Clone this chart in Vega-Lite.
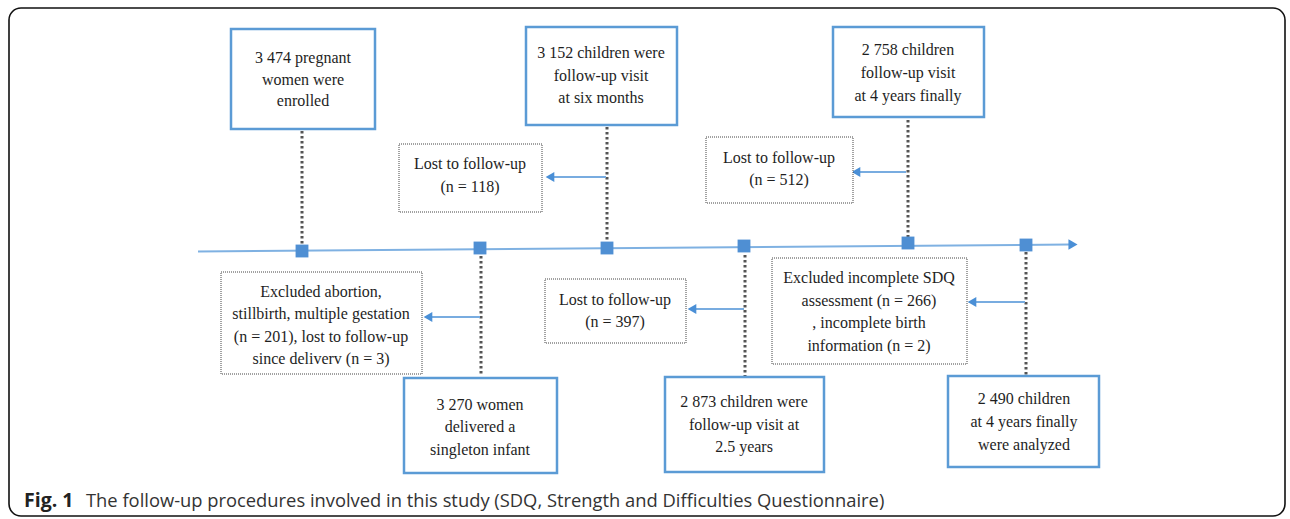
{
  "$schema": "https://vega.github.io/schema/vega-lite/v6.json",
  "width": 1290,
  "height": 519,
  "padding": 0,
  "autosize": {"type": "fit", "contains": "padding"},
  "background": "white",
  "config": {"view": {"stroke": null}},
  "datasets": {
    "frame": [{"x1": 9, "x2": 1285, "y1": 8, "y2": 516}],
    "solidBoxes": [
      {"id": "A", "x1": 231, "x2": 375, "y1": 29, "y2": 129},
      {"id": "B", "x1": 526, "x2": 677, "y1": 27, "y2": 125},
      {"id": "C", "x1": 833, "x2": 984, "y1": 27, "y2": 117},
      {"id": "D", "x1": 404, "x2": 557, "y1": 378, "y2": 473},
      {"id": "E", "x1": 665, "x2": 824, "y1": 377, "y2": 472},
      {"id": "F", "x1": 948, "x2": 1099, "y1": 376, "y2": 467}
    ],
    "dottedBoxes": [
      {"id": "G", "x1": 399, "x2": 542, "y1": 144, "y2": 212},
      {"id": "H", "x1": 706, "x2": 853, "y1": 137, "y2": 203},
      {"id": "I", "x1": 221, "x2": 422, "y1": 272, "y2": 374},
      {"id": "J", "x1": 545, "x2": 686, "y1": 279, "y2": 343},
      {"id": "K", "x1": 772, "x2": 967, "y1": 258, "y2": 364}
    ],
    "labels": [
      {"x": 303, "y": 58, "text": "3 474 pregnant"},
      {"x": 303, "y": 80, "text": "women were"},
      {"x": 303, "y": 101, "text": "enrolled"},
      {"x": 601, "y": 53, "text": "3 152 children were"},
      {"x": 601, "y": 76, "text": "follow-up visit"},
      {"x": 601, "y": 98, "text": "at six months"},
      {"x": 908, "y": 50, "text": "2 758 children"},
      {"x": 908, "y": 73, "text": "follow-up visit"},
      {"x": 908, "y": 96, "text": "at 4 years finally"},
      {"x": 480, "y": 405, "text": "3 270 women"},
      {"x": 480, "y": 427, "text": "delivered a"},
      {"x": 480, "y": 450, "text": "singleton infant"},
      {"x": 744, "y": 402, "text": "2 873 children were"},
      {"x": 744, "y": 425, "text": "follow-up visit at"},
      {"x": 744, "y": 447, "text": "2.5 years"},
      {"x": 1024, "y": 399, "text": "2 490 children"},
      {"x": 1024, "y": 422, "text": "at 4 years finally"},
      {"x": 1024, "y": 445, "text": "were analyzed"},
      {"x": 470, "y": 164, "text": "Lost to follow-up"},
      {"x": 470, "y": 187, "text": "(n = 118)"},
      {"x": 779, "y": 158, "text": "Lost to follow-up"},
      {"x": 779, "y": 180, "text": "(n = 512)"},
      {"x": 321, "y": 292, "text": "Excluded abortion,"},
      {"x": 321, "y": 314, "text": "stillbirth, multiple gestation"},
      {"x": 321, "y": 337, "text": "(n = 201), lost to follow-up"},
      {"x": 321, "y": 359, "text": "since deliverv (n = 3)"},
      {"x": 615, "y": 300, "text": "Lost to follow-up"},
      {"x": 615, "y": 322, "text": "(n = 397)"},
      {"x": 869, "y": 278, "text": "Excluded incomplete SDQ"},
      {"x": 869, "y": 301, "text": "assessment (n = 266)"},
      {"x": 869, "y": 323, "text": ", incomplete birth"},
      {"x": 869, "y": 346, "text": "information (n = 2)"}
    ],
    "connectors": [
      {"x": 302, "y1": 131, "y2": 247},
      {"x": 607, "y1": 127, "y2": 243},
      {"x": 908, "y1": 120, "y2": 238},
      {"x": 481, "y1": 256, "y2": 376},
      {"x": 745, "y1": 255, "y2": 376},
      {"x": 1026, "y1": 252, "y2": 375}
    ],
    "arrows": [
      {"x1": 606, "x2": 553, "hx": 550, "y": 177},
      {"x1": 906, "x2": 859, "hx": 856, "y": 172},
      {"x1": 480, "x2": 431, "hx": 428, "y": 317},
      {"x1": 744, "x2": 695, "hx": 692, "y": 309},
      {"x1": 1025, "x2": 975, "hx": 972, "y": 302}
    ],
    "timeline": [{"x1": 198, "y1": 251.5, "x2": 1070, "y2": 244.5}],
    "timelineHead": [{"x": 1073, "y": 244.5}],
    "markers": [
      {"x": 302, "y": 251},
      {"x": 480, "y": 248},
      {"x": 607, "y": 248},
      {"x": 744, "y": 246},
      {"x": 908, "y": 243},
      {"x": 1026, "y": 245}
    ],
    "captionBold": [{"x": 24, "y": 507, "text": "Fig. 1"}],
    "caption": [{"x": 86, "y": 507, "text": "The follow-up procedures involved in this study (SDQ, Strength and Difficulties Questionnaire)"}]
  },
  "layer": [
    {
      "data": {"name": "frame"},
      "mark": {"type": "rect", "fill": null, "fillOpacity": 0, "stroke": "#111111", "strokeWidth": 1.6, "cornerRadius": 12},
      "encoding": {
        "x": {"field": "x1", "type": "quantitative", "scale": {"domain": [0, 1290], "nice": false, "zero": false}, "axis": null},
        "x2": {"field": "x2"},
        "y": {"field": "y1", "type": "quantitative", "scale": {"domain": [0, 519], "nice": false, "zero": false, "reverse": true}, "axis": null},
        "y2": {"field": "y2"}
      }
    },
    {
      "data": {"name": "timeline"},
      "mark": {"type": "rule", "stroke": "#7fb1e2", "strokeWidth": 2},
      "encoding": {
        "x": {"field": "x1", "type": "quantitative"},
        "x2": {"field": "x2"},
        "y": {"field": "y1", "type": "quantitative"},
        "y2": {"field": "y2"}
      }
    },
    {
      "data": {"name": "timelineHead"},
      "mark": {"type": "point", "shape": "triangle-right", "filled": true, "color": "#4a8fd6", "size": 110, "opacity": 1},
      "encoding": {
        "x": {"field": "x", "type": "quantitative"},
        "y": {"field": "y", "type": "quantitative"}
      }
    },
    {
      "data": {"name": "connectors"},
      "mark": {"type": "rule", "stroke": "#555555", "strokeWidth": 3, "strokeDash": [2.5, 2.5]},
      "encoding": {
        "x": {"field": "x", "type": "quantitative"},
        "y": {"field": "y1", "type": "quantitative"},
        "y2": {"field": "y2"}
      }
    },
    {
      "data": {"name": "arrows"},
      "mark": {"type": "rule", "stroke": "#78ace0", "strokeWidth": 2},
      "encoding": {
        "x": {"field": "x1", "type": "quantitative"},
        "x2": {"field": "x2"},
        "y": {"field": "y", "type": "quantitative"}
      }
    },
    {
      "data": {"name": "arrows"},
      "mark": {"type": "point", "shape": "triangle-left", "filled": true, "color": "#4a8fd6", "size": 100, "opacity": 1},
      "encoding": {
        "x": {"field": "hx", "type": "quantitative"},
        "y": {"field": "y", "type": "quantitative"}
      }
    },
    {
      "data": {"name": "markers"},
      "mark": {"type": "square", "filled": true, "color": "#4f8fd3", "size": 165, "opacity": 1, "cornerRadius": 2},
      "encoding": {
        "x": {"field": "x", "type": "quantitative"},
        "y": {"field": "y", "type": "quantitative"}
      }
    },
    {
      "data": {"name": "solidBoxes"},
      "mark": {"type": "rect", "fill": "white", "stroke": "#5b9bd5", "strokeWidth": 2.5},
      "encoding": {
        "x": {"field": "x1", "type": "quantitative"},
        "x2": {"field": "x2"},
        "y": {"field": "y1", "type": "quantitative"},
        "y2": {"field": "y2"}
      }
    },
    {
      "data": {"name": "dottedBoxes"},
      "mark": {"type": "rect", "fill": "white", "stroke": "#444444", "strokeWidth": 1, "strokeDash": [1, 1]},
      "encoding": {
        "x": {"field": "x1", "type": "quantitative"},
        "x2": {"field": "x2"},
        "y": {"field": "y1", "type": "quantitative"},
        "y2": {"field": "y2"}
      }
    },
    {
      "data": {"name": "labels"},
      "mark": {"type": "text", "font": "Liberation Serif, Times New Roman, serif", "fontSize": 16, "color": "#1e1e1e", "align": "center", "baseline": "middle"},
      "encoding": {
        "x": {"field": "x", "type": "quantitative"},
        "y": {"field": "y", "type": "quantitative"},
        "text": {"field": "text"}
      }
    },
    {
      "data": {"name": "captionBold"},
      "mark": {"type": "text", "font": "Open Sans", "fontSize": 19.5, "fontWeight": "bold", "color": "#222222", "align": "left", "baseline": "alphabetic"},
      "encoding": {
        "x": {"field": "x", "type": "quantitative"},
        "y": {"field": "y", "type": "quantitative"},
        "text": {"field": "text"}
      }
    },
    {
      "data": {"name": "caption"},
      "mark": {"type": "text", "font": "Open Sans", "fontSize": 18.35, "color": "#333333", "align": "left", "baseline": "alphabetic"},
      "encoding": {
        "x": {"field": "x", "type": "quantitative"},
        "y": {"field": "y", "type": "quantitative"},
        "text": {"field": "text"}
      }
    }
  ]
}
